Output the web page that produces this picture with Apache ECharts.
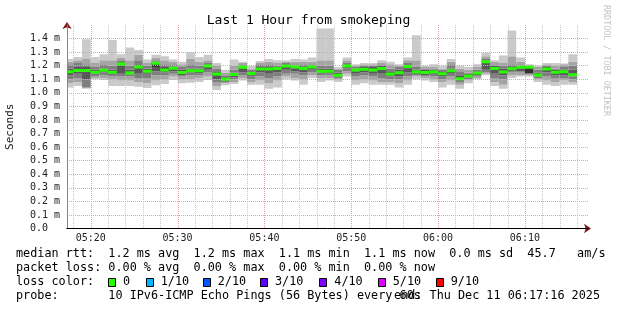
<!DOCTYPE html>
<html><head><meta charset="utf-8">
<script src="https://cdn.jsdelivr.net/npm/echarts@6/dist/echarts.min.js"></script>
<style>html,body{margin:0;padding:0;background:#fff}#c{width:617px;height:310px}</style>
</head><body><div id="c"></div>
<script>
const chartTitle = 'Last 1 Hour from smokeping';
const yAxisName = 'Seconds';
const windowStart = '05:17:16';
const windowEnd = '06:17:16';
const firstStep = '05:17';
const xMajorTicks = ['05:20','05:30','05:40','05:50','06:00','06:10'];
const xMinorTicks = ['05:18','05:22','05:24','05:26','05:28','05:32','05:34','05:36','05:38','05:42','05:44','05:46','05:48','05:52','05:54','05:56','05:58','06:02','06:04','06:06','06:08','06:12','06:14','06:16'];

const median = [1.155,1.165,1.165,1.151,1.166,1.152,1.212,1.147,1.19,1.16,
 1.218,1.168,1.182,1.15,1.163,1.163,1.197,1.138,1.10,1.136,
 1.188,1.143,1.175,1.175,1.18,1.198,1.19,1.18,1.19,1.16,
 1.16,1.129,1.197,1.168,1.173,1.168,1.18,1.138,1.148,1.195,
 1.155,1.15,1.155,1.14,1.163,1.104,1.124,1.146,1.229,1.18,
 1.153,1.178,1.188,1.188,1.131,1.175,1.151,1.155,1.133];

// sorted pings per step (ms), ping1 = fastest ... ping10 = slowest
const ping1 = [1.04,1.05,1.03,1.10,1.095,1.05,1.05,1.05,1.045,1.035,1.055,1.065,1.095,1.07,1.075,1.08,1.095,1.02,1.055,1.065,1.09,1.06,1.06,1.03,1.04,1.10,1.09,1.06,1.11,1.08,1.09,1.08,1.12,1.06,1.07,1.06,1.06,1.06,1.04,1.06,1.10,1.09,1.08,1.04,1.06,1.03,1.07,1.10,1.13,1.05,1.03,1.11,1.12,1.12,1.08,1.06,1.05,1.06,1.06];
const ping2 = [1.07,1.08,1.035,1.11,1.11,1.10,1.09,1.09,1.08,1.07,1.09,1.10,1.12,1.10,1.10,1.11,1.12,1.05,1.07,1.08,1.11,1.08,1.09,1.07,1.09,1.12,1.11,1.10,1.13,1.11,1.11,1.10,1.14,1.09,1.10,1.09,1.08,1.08,1.07,1.09,1.12,1.11,1.10,1.08,1.09,1.06,1.09,1.11,1.14,1.08,1.06,1.13,1.13,1.13,1.10,1.09,1.08,1.09,1.08];
const ping3 = [1.10,1.11,1.04,1.12,1.13,1.12,1.12,1.12,1.11,1.11,1.13,1.13,1.14,1.12,1.13,1.13,1.15,1.08,1.08,1.10,1.13,1.10,1.12,1.11,1.12,1.14,1.14,1.13,1.15,1.13,1.13,1.11,1.16,1.12,1.13,1.12,1.11,1.10,1.10,1.12,1.13,1.12,1.12,1.10,1.12,1.08,1.10,1.12,1.15,1.11,1.10,1.15,1.15,1.135,1.11,1.12,1.11,1.11,1.10];
const ping4 = [1.13,1.14,1.10,1.14,1.15,1.14,1.14,1.135,1.14,1.14,1.16,1.15,1.16,1.13,1.15,1.145,1.17,1.10,1.09,1.115,1.15,1.12,1.15,1.14,1.15,1.17,1.16,1.15,1.17,1.15,1.145,1.12,1.18,1.14,1.15,1.14,1.14,1.12,1.12,1.15,1.14,1.13,1.14,1.12,1.14,1.095,1.115,1.13,1.17,1.14,1.13,1.16,1.16,1.14,1.12,1.15,1.13,1.13,1.12];
const ping5 = [1.15,1.16,1.16,1.148,1.16,1.148,1.205,1.14,1.185,1.155,1.19,1.16,1.17,1.14,1.16,1.155,1.19,1.13,1.097,1.13,1.18,1.13,1.17,1.17,1.175,1.19,1.18,1.17,1.185,1.155,1.155,1.125,1.19,1.16,1.165,1.16,1.17,1.13,1.14,1.18,1.15,1.145,1.15,1.135,1.16,1.10,1.12,1.14,1.22,1.17,1.15,1.17,1.18,1.145,1.125,1.17,1.145,1.15,1.13];
const ping6 = [1.16,1.17,1.17,1.155,1.17,1.156,1.215,1.155,1.195,1.165,1.222,1.175,1.185,1.155,1.17,1.17,1.20,1.145,1.105,1.14,1.19,1.15,1.18,1.18,1.185,1.20,1.19,1.185,1.195,1.165,1.165,1.135,1.20,1.175,1.18,1.175,1.185,1.145,1.155,1.20,1.16,1.155,1.16,1.145,1.17,1.11,1.13,1.15,1.23,1.19,1.16,1.185,1.195,1.19,1.135,1.18,1.155,1.16,1.14];
const ping7 = [1.18,1.19,1.19,1.17,1.18,1.17,1.22,1.17,1.21,1.18,1.23,1.19,1.195,1.17,1.18,1.18,1.21,1.16,1.11,1.15,1.20,1.16,1.19,1.19,1.19,1.21,1.20,1.19,1.20,1.18,1.18,1.15,1.21,1.18,1.19,1.19,1.20,1.16,1.17,1.21,1.17,1.17,1.17,1.16,1.18,1.13,1.14,1.16,1.24,1.20,1.18,1.19,1.20,1.195,1.15,1.19,1.17,1.17,1.17];
const ping8 = [1.21,1.22,1.21,1.19,1.21,1.20,1.24,1.20,1.24,1.20,1.24,1.21,1.21,1.19,1.21,1.20,1.22,1.18,1.13,1.17,1.21,1.17,1.21,1.21,1.20,1.22,1.21,1.21,1.21,1.20,1.20,1.17,1.22,1.19,1.20,1.20,1.21,1.18,1.19,1.22,1.19,1.18,1.18,1.17,1.21,1.16,1.15,1.17,1.25,1.21,1.20,1.21,1.21,1.20,1.17,1.20,1.18,1.19,1.20];
const ping9 = [1.23,1.24,1.25,1.22,1.24,1.24,1.26,1.24,1.28,1.22,1.26,1.24,1.23,1.21,1.25,1.23,1.24,1.20,1.15,1.20,1.22,1.18,1.22,1.23,1.22,1.23,1.23,1.23,1.23,1.24,1.24,1.18,1.24,1.20,1.21,1.21,1.22,1.21,1.20,1.24,1.24,1.19,1.19,1.18,1.23,1.18,1.17,1.19,1.27,1.23,1.22,1.27,1.23,1.205,1.19,1.21,1.20,1.21,1.23];
const ping10 = [1.25,1.265,1.395,1.265,1.285,1.39,1.285,1.335,1.315,1.245,1.28,1.27,1.245,1.23,1.30,1.265,1.28,1.22,1.17,1.245,1.23,1.20,1.235,1.25,1.24,1.24,1.25,1.245,1.26,1.475,1.475,1.19,1.26,1.21,1.22,1.22,1.24,1.23,1.21,1.26,1.425,1.20,1.21,1.20,1.25,1.20,1.19,1.21,1.295,1.24,1.275,1.46,1.26,1.21,1.20,1.22,1.22,1.217,1.285];

const legendLine1 = 'median rtt:  1.2 ms avg  1.2 ms max  1.1 ms min  1.1 ms now  0.0 ms sd  45.7   am/s';
const legendLine2 = 'packet loss: 0.00 % avg  0.00 % max  0.00 % min  0.00 % now';
const lossTitle = 'loss color:';
const lossLabels = ['0','1/10','2/10','3/10','4/10','5/10','9/10'];
const lossColors = ['#26ff00','#00b8ff','#0059ff','#5e00ff','#7e00ff','#dd00ff','#ff0000'];
const probeLine = 'probe:       10 IPv6-ICMP Echo Pings (56 Bytes) every 60s';
const endLine = 'end: Thu Dec 11 06:17:16 2025';
const watermark = 'RRDTOOL / TOBI OETIKER';

function ts(hm) {
  const p = hm.split(':').map(Number);
  return Date.UTC(2025, 11, 11, p[0], p[1], p[2] || 0);
}
function fmt(v) {
  const d = new Date(v);
  return String(d.getUTCHours()).padStart(2,'0') + ':' + String(d.getUTCMinutes()).padStart(2,'0');
}
const T0 = ts(windowStart), T1 = ts(windowEnd);
const step0 = ts(firstStep);
const pings = [ping1,ping2,ping3,ping4,ping5,ping6,ping7,ping8,ping9,ping10];
const smokeData = median.map((m, i) => {
  const s = step0 + i * 60000;
  return [s, s + 60000].concat(pings.map(p => p[i])).concat([m]);
});
const greys = ['#cacaca','#a4a4a4','#7e7e7e','#585858','#323232','#585858','#7e7e7e','#a4a4a4','#cacaca'];
const MONO = '"DejaVu Sans Mono", monospace';
const LF = '11.8px ' + MONO;
const ARROW = '#7a1515';

const chart = echarts.init(document.getElementById('c'), null, {renderer: 'canvas'});

function vline(color) {
  return function (params, api) {
    const cs = params.coordSys;
    const x = Math.round(api.coord([api.value(0), 0])[0]) + 0.5;
    return {type: 'line', shape: {x1: x, y1: cs.y, x2: x, y2: cs.y + cs.height},
      style: {stroke: color, lineWidth: 1, lineDash: [1, 1]}, silent: true};
  };
}

const graphics = [];
const legY = [255, 268.7, 282.7, 296.7];
graphics.push({type:'text', left: 16, top: legY[0] - 7, style:{text: legendLine1, font: LF, fill:'#000'}});
graphics.push({type:'text', left: 16, top: legY[1] - 7, style:{text: legendLine2, font: LF, fill:'#000'}});
graphics.push({type:'text', left: 16, top: legY[2] - 7, style:{text: lossTitle, font: LF, fill:'#000'}});
const boxX = [108, 145.7, 202.7, 260, 319.3, 377.7, 435.7];
lossLabels.forEach((lab, i) => {
  graphics.push({type:'rect', shape:{x: Math.round(boxX[i]) + 0.5, y: 278.5, width: 7, height: 8}, style:{fill: lossColors[i], stroke:'#000', lineWidth:1}});
  graphics.push({type:'text', left: boxX[i] + 15, top: legY[2] - 7, style:{text: lab, font: LF, fill:'#000'}});
});
graphics.push({type:'text', left: 16, top: legY[3] - 7, style:{text: probeLine, font: LF, fill:'#000'}});
graphics.push({type:'text', right: 17, top: legY[3] - 7, style:{text: endLine, font: LF, fill:'#000'}});
graphics.push({type:'text', x: 610, y: 5, rotation: -Math.PI/2, style:{text: watermark, font: '8.4px ' + MONO, fill:'#c4c4c4', textAlign:'left', textVerticalAlign:'top'}});

chart.setOption({
  animation: false,
  backgroundColor: '#fff',
  title: {text: chartTitle, left: 'center', top: 14, padding: 0,
    textStyle: {fontFamily: MONO, fontSize: 13, fontWeight: 'normal', color: '#000'}},
  grid: {left: 67, right: 29, top: 25, bottom: 81.5, outerBoundsMode: 'none', containLabel: false},
  xAxis: [{
    type: 'value', min: T0, max: T1, z: 5,
    axisLine: {show: true, lineStyle: {color: '#000', width: 1}},
    axisTick: {show: false},
    splitLine: {show: false},
    axisLabel: {customValues: xMajorTicks.map(t => ts(t)), formatter: v => fmt(v),
      fontFamily: MONO, fontSize: 10, color: '#222', margin: 5}
  }, {
    type: 'value', min: T0, max: T1, z: 4,
    axisLine: {show: true, lineStyle: {color: ARROW, width: 1}, symbol: ['none', 'arrow'], symbolSize: [7, 7], symbolOffset: [0, 3]},
    axisTick: {show: false}, axisLabel: {show: false}, splitLine: {show: false}
  }],
  yAxis: [{
    type: 'value', min: 0, max: 1.5, interval: 0.1, z: 5,
    name: yAxisName, nameLocation: 'middle', nameGap: 51, nameRotate: 90,
    nameTextStyle: {fontFamily: MONO, fontSize: 11, color: '#222'},
    axisLine: {show: true, lineStyle: {color: '#888', width: 1}},
    axisTick: {show: false},
    axisLabel: {formatter: v => (v > 1.45 ? '' : (v === 0 ? '0.0  ' : v.toFixed(1) + ' m')),
      fontFamily: MONO, fontSize: 10, color: '#222', margin: 7, showMaxLabel: false},
    splitLine: {show: true, showMaxLine: false, lineStyle: {color: '#eaa0a0', type: [1, 1], width: 1}}
  }, {
    type: 'value', min: 0, max: 1.5, z: 4, position: 'left',
    axisLine: {show: true, onZero: false, lineStyle: {color: ARROW, width: 1}, symbol: ['none', 'arrow'], symbolSize: [7, 7], symbolOffset: [0, 3]},
    axisTick: {show: false}, axisLabel: {show: false}, splitLine: {show: false}
  }],
  graphic: graphics,
  series: [
    {type: 'custom', name: 'minorgrid', silent: true, z: 1, data: xMinorTicks.map(t => [ts(t)]),
      encode: {x: 0}, renderItem: vline('#c8c8c8')},
    {type: 'custom', name: 'majorgrid', silent: true, z: 1, data: xMajorTicks.map(t => [ts(t)]),
      encode: {x: 0}, renderItem: vline('#eaa0a0')},
    {type: 'custom', name: 'smoke', silent: true, z: 3, clip: true, data: smokeData,
      encode: {x: [0, 1], y: [2, 11]},
      renderItem: function (params, api) {
        const cs = params.coordSys;
        let x0 = api.coord([api.value(0), 0])[0];
        const x1 = api.coord([api.value(1), 0])[0];
        x0 = Math.max(x0, cs.x);
        const children = [];
        for (let k = 0; k < 9; k++) {
          const yLo = api.coord([0, api.value(2 + k)])[1];
          const yHi = api.coord([0, api.value(3 + k)])[1];
          children.push({type: 'rect', shape: {x: x0, y: yHi, width: x1 - x0, height: yLo - yHi},
            style: {fill: greys[k]}});
        }
        const ym = api.coord([0, api.value(12)])[1];
        children.push({type: 'rect', shape: {x: x0, y: ym - 1.5, width: x1 - x0, height: 3},
          style: {fill: '#26ff00'}});
        return {type: 'group', children: children};
      }}
  ]
});
</script></body></html>
